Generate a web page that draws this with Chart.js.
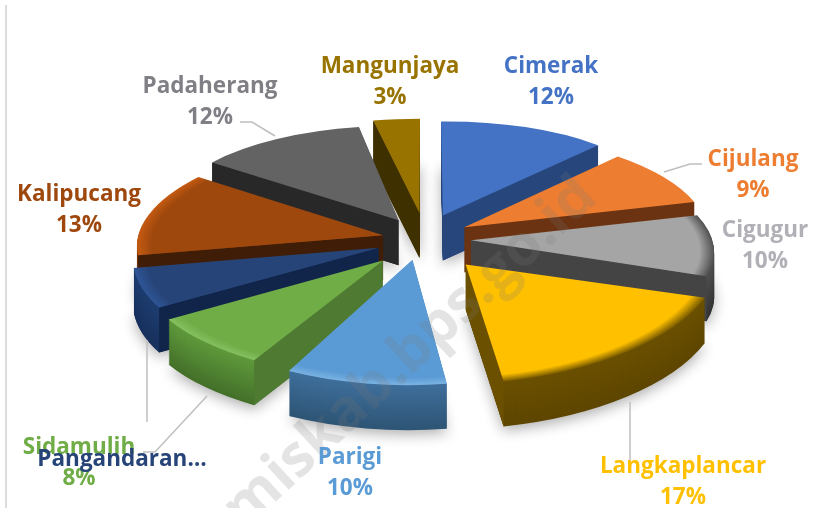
<!DOCTYPE html>
<html><head><meta charset="utf-8">
<style>html,body{margin:0;padding:0;background:#fff}canvas{display:block}</style>
<script src="https://cdn.jsdelivr.net/npm/chart.js@4/dist/chart.umd.min.js"></script>
</head><body><div style="width:814px;height:508px;position:relative"><canvas id="c" width="814" height="508"></canvas></div>
<script>
const categories=['Cimerak','Cijulang','Cigugur','Langkaplancar','Parigi','Sidamulih','Pangandaran','Kalipucang','Padaherang','Mangunjaya'];
const values=[12,9,10,17,10,8,6,13,12,3];
const explode=[55,45,50,65,55,52,43,40,50,60];
const reach=[1,.985,.96,.95,1,.94,.97,.98,1,1.01];
const startTwist=[0,0,0,-4,0,0,0,0,0,-1.2];
const endTwist=[0,0,-2,0,-3,0,0,0,0,0];
const nudgeX=[0,3,-2,2,0,-4,-4,-1,2,2];
const nudgeY=[1,1,3,6,0,8,5,3,2,2];
const topColors=['#4472c4','#ed7d31','#a5a5a5','#ffc000','#5b9bd5','#70ad47','#264478','#9e480e','#636363','#997300'];
const cutColors=['#27477c','#6b3311','#444444','#6b5000','#2f5a85','#4f7a32','#11254a','#3f1d06','#282828','#3f3000'];
const rimTop=['#27477c','#6b3311','#505050','#6b5000','#3f6f9c','#5f9a3c','#1d3d70','#7a380b','#282828','#3f3000'];
const rimBottom=['#27477c','#6b3311','#333333','#5e4600','#2e5575','#44702a','#17305c','#5c2a08','#282828','#3f3000'];
const bevels=['#4472c4','#ed7d31','#505050','#7a5c00','#7bb3e3','#86c060','#2f5597','#c55a11','#636363','#997300'];
const paintOrder=[9,8,0,7,1,6,2,5,4,3];
const view={cx:423,cy:236,tilt:.43,focal:2500,plane:250,depth:45};
const labelFont='bold 22.5px "Open Sans"';
const labelPlaces=[[551,66.5],[753,159.5],[765,231],[683,467],[350,458],[79,448],[122,460],[79,194.5],[210,86.5],[390,66.5]];
const lineGap=31;
const leaders=[[[240,122],[252,122],[275,136]],[[702,164],[690,164],[664,172]],[[630,402],[630,461]],[[147,340],[147,422]],[[207,396],[155,452],[143,452]]];

function project(px,py,i){const s=view.focal/(view.focal-py);return [view.cx+px*s+nudgeX[i],view.cy+view.tilt*py*s+nudgeY[i]];}
function corners(arc,i){
  const mid=(arc.startAngle+arc.endAngle)/2,e=explode[i],ox=Math.cos(mid)*e,oy=Math.sin(mid)*e,R=view.plane*reach[i];
  const a0=arc.startAngle+startTwist[i]*Math.PI/180,a1=arc.endAngle+endTwist[i]*Math.PI/180;
  return {T:project(ox,oy,i),A:project(ox+R*Math.cos(a0),oy+R*Math.sin(a0),i),B:project(ox+R*Math.cos(a1),oy+R*Math.sin(a1),i)};
}
function paint(ctx,arc,c,fill,dy){
  const r=arc.outerRadius,a0=arc.startAngle,a1=arc.endAngle;
  const ux=r*Math.cos(a0),uy=r*Math.sin(a0),vx=r*Math.cos(a1),vy=r*Math.sin(a1),det=ux*vy-uy*vx;
  const px=c.A[0]-c.T[0],py=c.A[1]-c.T[1],qx=c.B[0]-c.T[0],qy=c.B[1]-c.T[1];
  const m11=(px*vy-qx*uy)/det,m12=(qx*ux-px*vx)/det,m21=(py*vy-qy*uy)/det,m22=(qy*ux-py*vx)/det;
  ctx.save();
  ctx.transform(m11,m21,m12,m22,c.T[0],c.T[1]+dy);
  ctx.translate(-arc.x,-arc.y);
  const saved=arc.options;
  const style=typeof fill==='function'?fill(ctx,arc):fill;
  arc.options=Object.create(saved,{backgroundColor:{value:style},borderWidth:{value:0},borderColor:{value:'rgba(0,0,0,0)'},offset:{value:0},spacing:{value:0}});
  arc.draw(ctx);
  arc.options=saved;
  ctx.restore();
}
function mix(a,b,t){const h=x=>[1,3,5].map(k=>parseInt(x.substr(k,2),16));const A=h(a),B=h(b);return 'rgb('+A.map((v,k)=>Math.round(v+(B[k]-v)*t)).join(',')+')';}
function cutFace(ctx,c,P,Q,color){
  const dx=P[0]-c.T[0],dy=P[1]-c.T[1];
  const down=dx*1,other=dx*(Q[1]-c.T[1])-dy*(Q[0]-c.T[0]);
  if(down*other>=0)return;
  ctx.beginPath();ctx.moveTo(c.T[0],c.T[1]);ctx.lineTo(P[0],P[1]);ctx.lineTo(P[0],P[1]+view.depth);ctx.lineTo(c.T[0],c.T[1]+view.depth);ctx.closePath();
  ctx.fillStyle=color;ctx.fill();
}
const solid3d={id:'solid3d',
  beforeDatasetDraw(chart,args){
    const ctx=chart.ctx,arcs=chart.getDatasetMeta(0).data;
    ctx.save();
    ctx.shadowColor='rgba(0,0,0,.32)';ctx.shadowBlur=14;ctx.shadowOffsetY=4;
    arcs.forEach((a,i)=>paint(ctx,a,corners(a,i),'#cccccc',view.depth));
    ctx.restore();
    paintOrder.forEach(i=>{
      const a=arcs[i],c=corners(a,i);
      for(let d=view.depth;d>0;d--) paint(ctx,a,c,mix(rimTop[i],rimBottom[i],d/view.depth),d);
      cutFace(ctx,c,c.A,c.B,cutColors[i]);
      cutFace(ctx,c,c.B,c.A,cutColors[i]);
      paint(ctx,a,c,(g,arc)=>{
        const rg=g.createRadialGradient(arc.x,arc.y,0,arc.x,arc.y,arc.outerRadius);
        rg.addColorStop(0,topColors[i]);rg.addColorStop(.94,topColors[i]);rg.addColorStop(1,bevels[i]);return rg;},0);
    });
    return false;
  },
  afterDraw(chart){
    const ctx=chart.ctx;
    ctx.save();
    ctx.fillStyle='#dcdcdc';ctx.fillRect(5,5,2,503);
    ctx.save();ctx.translate(588,188);ctx.rotate(-43*Math.PI/180);
    ctx.font='bold 58px "Open Sans"';ctx.textAlign='right';ctx.textBaseline='middle';ctx.fillStyle='rgba(120,120,120,.2)';
    ctx.fillText('ciamiskab.bps.go.id',0,0);ctx.restore();
    ctx.strokeStyle='#bfbfbf';ctx.lineWidth=1.5;
    leaders.forEach(l=>{ctx.beginPath();l.forEach((p,k)=>k?ctx.lineTo(p[0],p[1]):ctx.moveTo(p[0],p[1]));ctx.stroke();});
    ctx.font=labelFont;ctx.textAlign='center';ctx.textBaseline='middle';
    categories.forEach((n,i)=>{
      const [x,y]=labelPlaces[i];
      ctx.fillStyle=topColors[i]==='#a5a5a5'?'#b0b0b6':topColors[i]==='#636363'?'#7f7f85':topColors[i];
      if(n==='Pangandaran'){ctx.fillText(n+'…',x,y);return;}
      ctx.fillText(n,x,y);
      ctx.fillText(values[i]+'%',x,y+lineGap);
    });
    ctx.restore();
  }
};
new Chart(document.getElementById('c'),{type:'pie',
  data:{labels:categories,datasets:[{data:values,backgroundColor:topColors,borderWidth:0}]},
  options:{responsive:false,animation:false,rotation:0,plugins:{legend:{display:false},tooltip:{enabled:false}}},
  plugins:[solid3d]});
</script></body></html>
